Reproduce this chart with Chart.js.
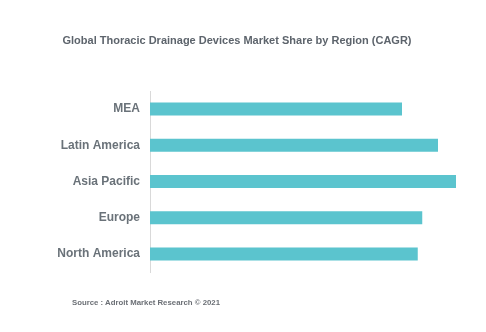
<!DOCTYPE html>
<html>
<head>
<meta charset="utf-8">
<script src="https://cdn.jsdelivr.net/npm/chart.js@4/dist/chart.umd.min.js"></script>
<style>
  html, body { margin: 0; padding: 0; background: #ffffff; }
  #wrap { position: relative; width: 486px; height: 332px; }
  #source { position: absolute; left: 72px; top: 298px; font: bold 7.8px "Liberation Sans", Arial, sans-serif; color: #6b6f75; white-space: nowrap; }
</style>
</head>
<body>
<div id="wrap">
  <canvas id="c" width="486" height="332"></canvas>
  <div id="source">Source : Adroit Market Research © 2021</div>
</div>
<script>
const titleText = "Global Thoracic Drainage Devices Market Share by Region (CAGR)";
const regions = ["MEA", "Latin America", "Asia Pacific", "Europe", "North America"];
const cagrValues = [5.6, 6.4, 6.8, 6.05, 5.95];

new Chart(document.getElementById("c"), {
  type: "bar",
  data: {
    labels: regions,
    datasets: [{
      data: cagrValues,
      backgroundColor: "#5bc4ce",
      borderWidth: 0,
      categoryPercentage: 1,
      barPercentage: 0.36
    }]
  },
  options: {
    indexAxis: "y",
    responsive: false,
    animation: false,
    layout: { padding: { left: 0, right: 12, top: 0, bottom: 60 } },
    plugins: {
      legend: { display: false },
      tooltip: { enabled: false },
      title: {
        display: true,
        text: titleText,
        color: "#5d646c",
        font: { family: "'Liberation Sans', Arial, sans-serif", size: 11, weight: "bold" },
        padding: { top: 34, bottom: 43.8 }
      }
    },
    scales: {
      x: { display: false, min: 0, max: 7.2 },
      y: {
        afterFit: (s) => { s.width = 150; },
        grid: { display: false, drawTicks: false },
        border: { display: true, color: "#d9d9d9", width: 1 },
        ticks: {
          color: "#6a7279",
          padding: 10,
          font: { family: "'Liberation Sans', Arial, sans-serif", size: 12, weight: "bold" }
        }
      }
    }
  }
});
</script>
</body>
</html>
